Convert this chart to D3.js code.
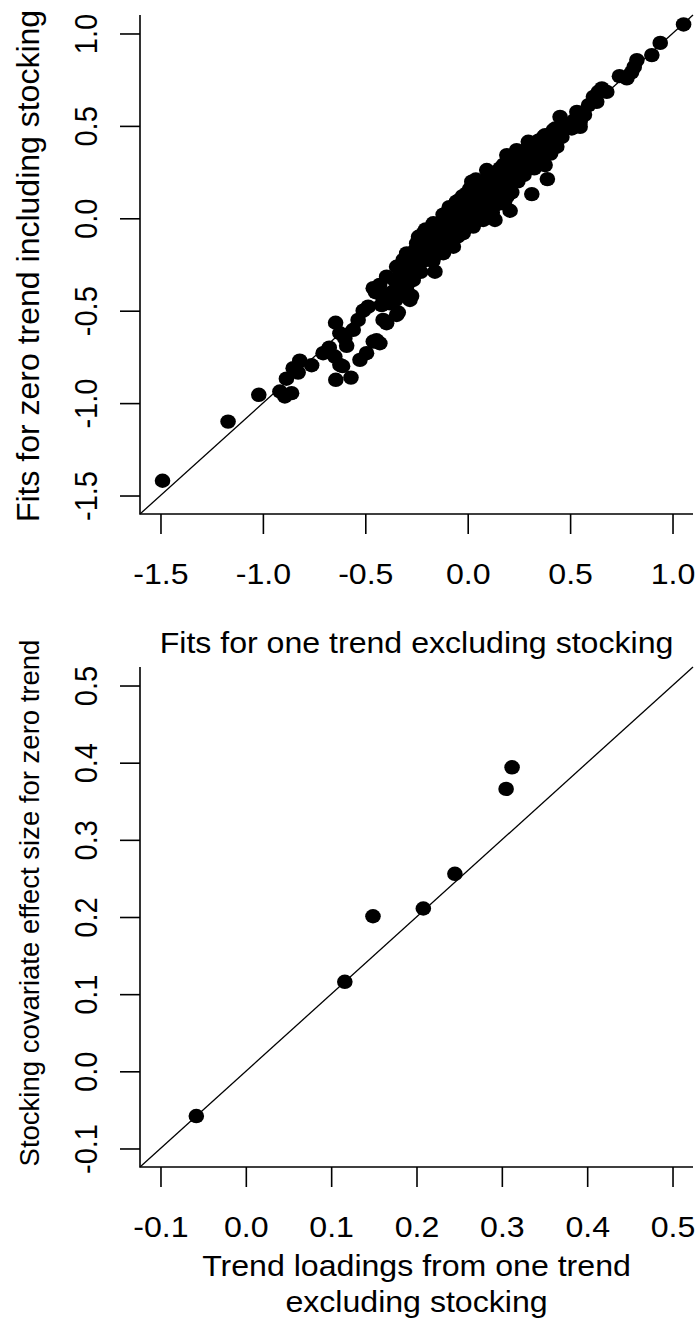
<!DOCTYPE html>
<html>
<head>
<meta charset="utf-8">
<script src="https://cdn.jsdelivr.net/npm/d3@7"></script>
<style>
  html, body { margin: 0; padding: 0; background: #fff; }
  svg { display: block; }
  text { font-family: "Liberation Sans", Arial, Helvetica, sans-serif; fill: #000; }
</style>
</head>
<body>
<svg id="chart" width="698" height="1320"></svg>
<script>
// Panel 1: fitted values, one-trend model without stocking (x) vs zero-trend model with stocking (y)
const fitsOneTrendExcl = [
  -1.49, -1.17, -1.02, -0.917, -0.893, -0.86, -0.885, -0.852, -0.828, -0.82,
  -0.762, -0.706, -0.681, -0.676, -0.649, -0.624, -0.644, -0.570, -0.611, -0.645,
  -0.624, -0.600, -0.591, -0.559, -0.535, -0.526, -0.494, -0.461, -0.445, -0.429,
  -0.51, -0.486, -0.413, -0.396, -0.380, -0.347, -0.339, -0.461, -0.429, -0.413,
  -0.396, -0.380, -0.347, -0.347, -0.331, -0.315, -0.298, -0.298, -0.282, -0.274,
  -0.266, -0.266, -0.249, -0.233, -0.200, -0.200, -0.160,
  -0.298, -0.298, -0.249, -0.233, -0.217, -0.184, -0.168, -0.119, -0.119, -0.103,
  -0.070, -0.070, -0.038, -0.022, -0.005, 0.020, 0.027, 0.044, 0.060, 0.076,
  0.076, 0.093, 0.109, 0.125, 0.133, 0.158, 0.158, 0.174, 0.191, 0.191,
  0.207, 0.223, 0.239, 0.256, 0.296, 0.313, 0.321, 0.353, 0.370, 0.378,
  0.389, 0.418, 0.435,
  -0.255, -0.24, -0.22, -0.205, -0.19, -0.175, -0.16, -0.15, -0.14, -0.13,
  -0.11, -0.10, -0.09, -0.085, -0.06, -0.055, -0.05, -0.035, -0.025, -0.01,
  0.0, 0.01, 0.015, 0.03, 0.04, 0.05, 0.055, 0.065, 0.085, 0.095,
  0.10, 0.115, 0.12, 0.135, 0.14, 0.15, 0.165, 0.175, 0.18, 0.195,
  0.205, 0.215, 0.225, 0.235, 0.245, 0.255, 0.27, 0.275, 0.285, 0.29,
  0.305, 0.31, 0.325, 0.335, 0.345, 0.355, 0.365, 0.38, 0.40, 0.405,
  0.425, 0.44, 0.46,
  -0.45, -0.43, -0.42, -0.37, -0.36, -0.35, -0.32, -0.31, -0.29, -0.27,
  -0.26, -0.24, -0.23, -0.21, -0.20, -0.18, -0.17, -0.14, -0.13, -0.12,
  -0.08, -0.06, -0.04, -0.02, 0.01, 0.02, 0.07, 0.08, 0.11, 0.13,
  0.16, 0.20, 0.23, 0.26, 0.28, 0.30, 0.33, 0.36, 0.39, 0.41,
  0.47, 0.50,
  0.378, 0.427, 0.451, 0.48, 0.508, 0.52, 0.533, 0.549, 0.549, 0.57,
  0.590, 0.614, 0.630, 0.638, 0.655, 0.679, 0.741, 0.777, 0.80, 0.813,
  0.826, 0.899, 0.940, 1.054
];
const fitsZeroTrendIncl = [
  -1.42, -1.10, -0.955, -0.937, -0.964, -0.946, -0.868, -0.811, -0.835, -0.77,
  -0.795, -0.73, -0.712, -0.70, -0.748, -0.793, -0.874, -0.862, -0.80, -0.565,
  -0.622, -0.650, -0.690, -0.604, -0.55, -0.766, -0.730, -0.667, -0.66, -0.676,
  -0.50, -0.478, -0.550, -0.568, -0.46, -0.523, -0.51, -0.378, -0.405, -0.432,
  -0.316, -0.442, -0.262, -0.351, -0.405, -0.225, -0.297, -0.388, -0.442, -0.42,
  -0.208, -0.334, -0.279, -0.171, -0.135, -0.225, -0.289,
  -0.19, -0.262, -0.135, -0.243, -0.081, -0.208, -0.027, -0.099, -0.189, 0.009,
  0.045, -0.154, 0.081, -0.081, 0.135, 0.198, -0.045, 0.153, 0.027, 0.117,
  -0.009, 0.261, 0.063, 0.153, -0.009, 0.081, 0.270, 0.171, 0.117, 0.342,
  0.041, 0.207, 0.369, 0.261, 0.414, 0.131, 0.315, 0.360, 0.441, 0.288,
  0.212, 0.477, 0.387,
  -0.17, -0.10, -0.19, -0.06, -0.15, -0.09, -0.20, -0.03, -0.13, -0.06,
  -0.14, -0.04, 0.06, -0.09, -0.01, 0.09, -0.10, 0.03, 0.12, -0.03,
  0.06, 0.16, 0.0, 0.09, 0.21, -0.01, 0.06, 0.17, 0.04, 0.20,
  0.11, 0.23, 0.03, 0.18, 0.10, 0.24, 0.13, 0.29, 0.09, 0.21,
  0.26, 0.14, 0.31, 0.27, 0.20, 0.34, 0.30, 0.235, 0.37, 0.28,
  0.33, 0.39, 0.27, 0.35, 0.42, 0.30, 0.40, 0.37, 0.43, 0.35,
  0.42, 0.46, 0.44,
  -0.40, -0.36, -0.47, -0.40, -0.33, -0.44, -0.30, -0.27, -0.35, -0.26,
  -0.30, -0.22, -0.29, -0.14, -0.18, -0.11, -0.23, -0.07, -0.17, 0.02,
  0.03, -0.07, 0.10, 0.01, 0.10, -0.02, 0.09, 0.20, 0.17, 0.07,
  0.19, 0.18, 0.23, 0.25, 0.31, 0.37, 0.31, 0.36, 0.40, 0.44,
  0.48, 0.51,
  0.450, 0.486, 0.549, 0.50, 0.486, 0.53, 0.576, 0.522, 0.495, 0.56,
  0.612, 0.657, 0.630, 0.684, 0.703, 0.684, 0.769, 0.757, 0.79, 0.819,
  0.856, 0.883, 0.949, 1.049
];
const fitsTicks = [-1.5, -1.0, -0.5, 0.0, 0.5, 1.0];

// Panel 2: trend loadings vs stocking covariate effect sizes
const loadingsOneTrendExcl = [-0.058, 0.116, 0.149, 0.208, 0.245, 0.305, 0.312];
const stockingEffectZeroTrend = [-0.058, 0.116, 0.201, 0.211, 0.256, 0.366, 0.394];
const loadingTicks = [-0.1, 0.0, 0.1, 0.2, 0.3, 0.4, 0.5];

const SX = 1.107;          // horizontal stretch applied to tick labels, x titles and markers
const FONT = 29;
const fmt = d => d.toFixed(1);

const svg = d3.select("#chart");

function panel(cfg) {
  const x = d3.scaleLinear().domain(cfg.domain).range([cfg.left, cfg.right]);
  const y = d3.scaleLinear().domain(cfg.domain).range([cfg.bottom, cfg.top]);
  const g = svg.append("g");

  // identity line
  g.append("line")
    .attr("x1", x(cfg.domain[0])).attr("y1", y(cfg.domain[0]))
    .attr("x2", x(cfg.domain[1])).attr("y2", y(cfg.domain[1]))
    .attr("stroke", "#000").attr("stroke-width", 1.3);

  // L-shaped frame
  g.append("path")
    .attr("d", `M${cfg.left},${cfg.top}V${cfg.bottom}H${cfg.right}`)
    .attr("fill", "none").attr("stroke", "#000").attr("stroke-width", 1.6);

  // bottom axis
  const ax = g.append("g")
    .attr("transform", `translate(0,${cfg.bottom})`)
    .call(d3.axisBottom(x).tickValues(cfg.ticks).tickFormat(fmt).tickSize(20).tickSizeOuter(0));
  ax.select(".domain").remove();
  ax.selectAll(".tick line").attr("stroke", "#000").attr("stroke-width", 1.6);
  ax.selectAll(".tick text")
    .attr("y", null).attr("dy", null)
    .attr("font-size", FONT).attr("font-family", null)
    .attr("text-anchor", "middle")
    .attr("transform", `translate(0,69.5) scale(${SX},1)`);

  // left axis
  const ay = g.append("g")
    .attr("transform", `translate(${cfg.left},0)`)
    .call(d3.axisLeft(y).tickValues(cfg.ticks).tickFormat(fmt).tickSize(20).tickSizeOuter(0));
  ay.select(".domain").remove();
  ay.selectAll(".tick line").attr("stroke", "#000").attr("stroke-width", 1.6);
  ay.selectAll(".tick text")
    .attr("x", null).attr("dy", null)
    .attr("font-size", FONT).attr("font-family", null)
    .attr("text-anchor", "middle")
    .attr("transform", `translate(-43,0) scale(${SX},1) rotate(-90)`);

  // points
  g.append("g").selectAll("ellipse")
    .data(d3.zip(cfg.xs, cfg.ys))
    .join("ellipse")
    .attr("cx", d => x(d[0])).attr("cy", d => y(d[1]))
    .attr("rx", 7.8).attr("ry", 7.2)
    .attr("fill", "#000");

  // x title (one or more lines)
  cfg.xTitle.forEach((line, i) => {
    g.append("text")
      .attr("text-anchor", "middle").attr("font-size", FONT)
      .attr("transform", `translate(${(cfg.left + cfg.right) / 2},${cfg.xTitleY[i]}) scale(${SX},1)`)
      .text(line);
  });

  // y title
  g.append("text")
    .attr("text-anchor", "middle").attr("font-size", cfg.yTitleSize)
    .attr("transform", `translate(39,${cfg.yTitleCenter}) rotate(-90)`)
    .text(cfg.yTitle);
}

panel({
  xs: fitsOneTrendExcl, ys: fitsZeroTrendIncl,
  domain: [-1.6, 1.1], ticks: fitsTicks,
  left: 140, right: 693, top: 15, bottom: 514,
  xTitle: ["Fits for one trend excluding stocking"], xTitleY: [653],
  yTitle: "Fits for zero trend including stocking",
  yTitleSize: 32, yTitleCenter: 266
});

panel({
  xs: loadingsOneTrendExcl, ys: stockingEffectZeroTrend,
  domain: [-0.124, 0.524], ticks: loadingTicks,
  left: 140, right: 693, top: 667, bottom: 1167,
  xTitle: ["Trend loadings from one trend", "excluding stocking"], xTitleY: [1276, 1312],
  yTitle: "Stocking covariate effect size for zero trend",
  yTitleSize: 27.5, yTitleCenter: 903
});
</script>
</body>
</html>
